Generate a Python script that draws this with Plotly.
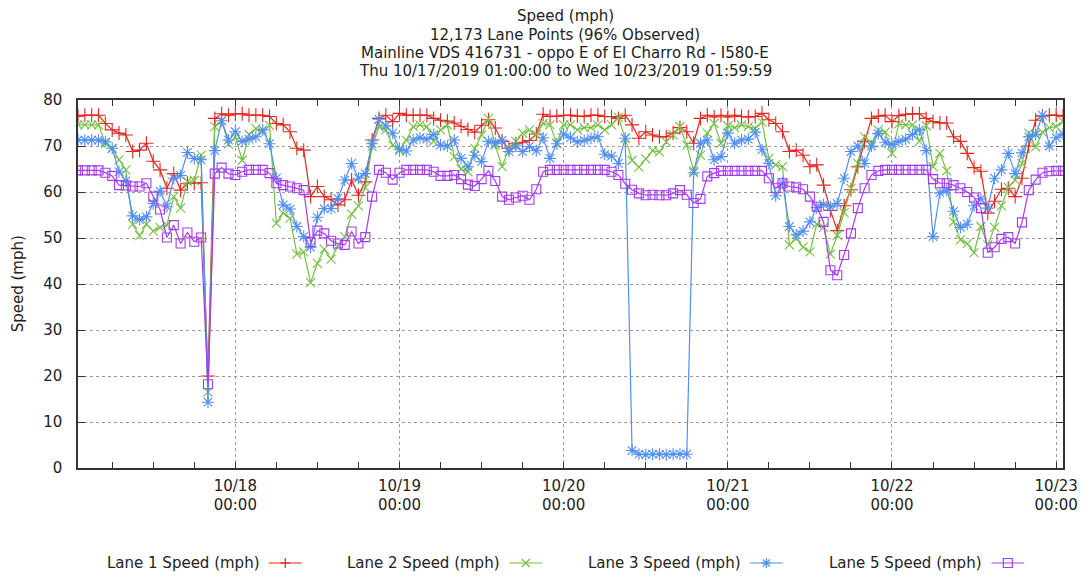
import plotly.graph_objects as go
import pandas as pd

# ---------------- data (hourly, 10/17 01:00 .. 10/23 01:00) ----------------
start_time = "2019-10-17 01:00"
n_points = 145

lane1 = [76.5, 76.7, 76.7, 76.7, 74.9, 73.5, 72.8, 72.4, 68.8, 69.1, 70.6, 66.7, 64.8, 60.8, 64.0, 60.4, 61.9, 61.9, 62.0, 20.0, 76.0, 77.0, 76.7, 77.0,
         77.0, 76.7, 76.7, 76.7, 76.4, 74.9, 74.6, 73.1, 69.5, 69.1, 59.0, 61.2, 59.0, 58.3, 57.2, 58.3, 62.6, 59.3, 62.2, 71.3, 76.0, 76.7, 75.3, 77.1,
         76.7, 76.7, 76.7, 76.7, 76.0, 75.6, 75.4, 75.0, 74.3, 73.6, 73.0, 74.5, 75.7, 73.9, 71.0, 69.5, 70.5, 70.8, 71.2, 72.6, 76.9, 76.4, 76.5, 76.7,
         76.7, 76.5, 76.4, 76.7, 76.7, 76.4, 76.4, 76.0, 76.7, 74.6, 71.7, 73.1, 72.4, 72.0, 72.0, 72.8, 74.0, 73.1, 70.6, 76.0, 76.7, 76.3, 76.7, 76.3,
         76.7, 76.4, 76.3, 76.4, 77.1, 75.7, 74.9, 73.1, 68.8, 69.1, 68.0, 65.5, 65.9, 61.5, 56.0, 51.6, 57.0, 60.5, 65.5, 71.0, 76.0, 76.5, 76.7, 75.3,
         76.6, 76.9, 77.0, 77.0, 76.0, 75.3, 75.0, 75.0, 72.0, 71.0, 68.4, 65.3, 64.5, 55.4, 58.0, 60.6, 60.8, 59.0, 63.0, 70.0, 75.6, 76.5, 76.7, 76.7, 76.5]

lane2 = [74.6, 74.6, 74.6, 74.6, 70.6, 69.5, 67.0, 64.8, 53.0, 50.5, 53.0, 51.5, 52.3, 52.8, 59.0, 56.5, 62.3, 62.5, 68.0, 16.5, 74.2, 75.5, 70.4, 72.0,
         66.9, 72.5, 73.8, 73.0, 74.5, 53.2, 55.4, 54.3, 46.5, 47.0, 40.3, 44.5, 47.6, 45.4, 48.3, 50.3, 55.2, 57.0, 61.0, 69.9, 74.2, 73.5, 70.2, 69.0,
         71.3, 74.2, 74.6, 74.2, 71.0, 73.5, 74.6, 67.7, 65.0, 64.4, 69.5, 72.4, 76.0, 70.2, 65.5, 69.5, 71.0, 72.8, 73.5, 72.5, 74.9, 74.6, 70.6, 74.6,
         74.6, 73.5, 74.0, 74.0, 74.6, 73.5, 74.6, 76.2, 71.7, 66.9, 65.4, 67.2, 69.0, 68.7, 70.9, 72.4, 74.2, 70.2, 64.6, 68.0, 72.8, 74.9, 70.6, 74.4,
         74.0, 74.6, 74.2, 73.8, 75.2, 67.3, 65.9, 65.5, 48.5, 50.0, 48.0, 47.0, 53.0, 52.3, 46.5, 50.6, 55.5, 60.8, 66.2, 72.0, 70.6, 73.5, 73.0, 68.4,
         74.8, 74.6, 74.6, 71.0, 74.4, 65.5, 68.4, 64.6, 53.5, 49.6, 48.8, 46.8, 52.5, 48.5, 52.3, 57.0, 61.0, 62.6, 66.2, 72.8, 69.8, 73.0, 74.0, 74.2, 75.3]

lane3 = [71.3, 71.3, 71.3, 71.3, 70.9, 69.5, 64.4, 62.4, 54.8, 54.0, 54.6, 57.5, 60.2, 56.8, 63.0, 63.6, 68.6, 67.3, 67.0, 14.3, 69.0, 75.5, 71.3, 73.1,
         71.0, 71.5, 72.0, 73.5, 70.5, 63.0, 57.2, 56.3, 52.5, 50.3, 48.0, 54.5, 56.4, 56.4, 58.6, 62.6, 66.2, 63.0, 64.0, 70.5, 75.8, 74.4, 72.8, 69.3,
         68.9, 71.3, 71.8, 71.5, 72.5, 70.2, 70.0, 71.3, 67.3, 65.5, 68.0, 66.6, 71.0, 70.6, 71.3, 68.8, 70.0, 68.8, 69.9, 69.0, 71.8, 67.3, 70.5, 72.6,
         71.8, 70.9, 71.2, 71.7, 72.0, 68.2, 67.8, 66.2, 71.7, 3.8, 3.0, 2.9, 3.0, 3.0, 2.9, 3.0, 3.0, 3.0, 64.2, 70.6, 71.3, 67.0, 67.7, 72.8,
         70.6, 71.3, 71.5, 73.0, 69.2, 66.2, 59.2, 62.0, 52.5, 50.7, 51.5, 53.5, 56.6, 57.3, 56.8, 57.5, 63.0, 68.8, 70.0, 66.2, 70.0, 72.7, 70.8, 70.3,
         71.0, 71.5, 72.5, 73.5, 69.0, 50.3, 59.8, 60.4, 55.8, 52.3, 53.0, 57.0, 58.5, 56.5, 63.0, 64.8, 68.4, 64.0, 68.5, 72.0, 72.5, 76.7, 70.0, 71.8, 72.6]

lane5 = [64.7, 64.7, 64.7, 64.7, 64.2, 63.5, 61.5, 61.4, 61.2, 61.2, 61.9, 59.0, 56.2, 50.1, 52.8, 48.8, 51.2, 49.2, 50.1, 18.2, 64.0, 65.3, 64.0, 63.7,
         64.4, 64.8, 64.8, 64.8, 64.1, 61.9, 61.5, 61.2, 60.8, 60.4, 49.1, 51.6, 51.0, 49.4, 48.8, 48.5, 51.4, 48.8, 50.2, 59.0, 64.8, 64.2, 62.7, 64.2,
         64.8, 64.8, 64.8, 64.8, 64.4, 63.5, 63.5, 63.7, 62.8, 61.6, 61.3, 62.8, 64.6, 62.4, 59.0, 58.3, 58.8, 59.2, 58.3, 60.6, 64.4, 64.8, 64.8, 64.8,
         64.8, 64.8, 64.8, 64.8, 64.8, 64.8, 64.4, 63.7, 61.8, 60.5, 59.7, 59.3, 59.4, 59.3, 59.3, 59.7, 60.4, 59.4, 57.6, 58.5, 63.4, 64.1, 64.6, 64.6,
         64.6, 64.6, 64.6, 64.6, 64.6, 63.0, 60.8, 61.9, 61.2, 61.0, 60.6, 59.0, 56.8, 53.5, 43.0, 41.9, 46.3, 51.0, 56.5, 60.8, 63.7, 64.6, 64.8, 64.8,
         64.8, 64.8, 64.8, 64.8, 64.8, 62.8, 61.9, 61.9, 61.5, 60.8, 60.0, 58.8, 56.5, 46.8, 48.0, 49.8, 50.2, 48.8, 53.4, 60.4, 62.7, 64.2, 64.5, 64.6, 64.6]

series_names = ["Lane 1 Speed (mph)", "Lane 2 Speed (mph)", "Lane 3 Speed (mph)", "Lane 5 Speed (mph)"]
day_ticks = ["2019-10-18", "2019-10-19", "2019-10-20", "2019-10-21", "2019-10-22", "2019-10-23"]
day_labels = ["10/18<br>00:00", "10/19<br>00:00", "10/20<br>00:00", "10/21<br>00:00", "10/22<br>00:00", "10/23<br>00:00"]
title_lines = ["Speed (mph)", "12,173 Lane Points (96% Observed)",
               "Mainline VDS 416731 - oppo E of El Charro Rd - I580-E",
               "Thu 10/17/2019 01:00:00 to Wed 10/23/2019 01:59:59"]
y_title = "Speed (mph)"

# ---------------- styling ----------------
colors = ["#e5261e", "#74c043", "#4f8ff6", "#a53bf0"]
symbols = ["cross-thin", "x-thin", "asterisk", "square-open"]
msizes = [10, 9, 10, 9]
FONT = "DejaVu Sans"
FS = 15
TXT = "#222222"

times = pd.date_range(start_time, periods=n_points, freq="h")

fig = go.Figure()
for vals, name, c, s, ms in zip([lane1, lane2, lane3, lane5], series_names, colors, symbols, msizes):
    fig.add_trace(go.Scatter(
        x=times, y=vals, name=name, mode="lines+markers",
        line=dict(color=c, width=1.2),
        marker=dict(symbol=s, size=ms, color=c, line=dict(color=c, width=1.1)),
        showlegend=False,
    ))

# plot area in pixels
L, R, T, B = 78, 1069, 100, 468
PW, PH = R - L, B - T


def px(x, y):
    return (x - L) / PW, (B - y) / PH


fig.update_layout(
    width=1090, height=577,
    margin=dict(l=L, r=1090 - R, t=T, b=577 - B),
    paper_bgcolor="white", plot_bgcolor="white",
    font=dict(family=FONT, size=FS, color=TXT),
    showlegend=False,
)

fig.update_xaxes(
    type="date", range=[times[0], times[-1]],
    showline=True, linecolor="#333333", linewidth=1.5, mirror="allticks",
    ticks="inside", ticklen=6, tickcolor="#333333",
    tickmode="array", tickvals=day_ticks, ticktext=day_labels,
    tickfont=dict(family=FONT, size=FS, color=TXT),
    showgrid=True, gridcolor="#9a9a9a", griddash="dot", gridwidth=1,
    minor=dict(tickmode="linear", tick0="2019-10-17 00:00", dtick=6 * 3600 * 1000,
               ticks="inside", ticklen=6, tickcolor="#333333", showgrid=False),
    zeroline=False, ticklabelstandoff=3,
)
fig.update_yaxes(
    range=[0, 80], dtick=10, tick0=0,
    showline=True, linecolor="#333333", linewidth=1.5, mirror="allticks",
    ticks="inside", ticklen=7, tickcolor="#333333",
    tickfont=dict(family=FONT, size=FS, color=TXT),
    showgrid=True, gridcolor="#9a9a9a", griddash="dot", gridwidth=1,
    zeroline=False, ticklabelstandoff=11,
)

annotations = []
for text, ypx in zip(title_lines, [16, 35, 53, 71]):
    x0, y0 = px(568, ypx)
    annotations.append(dict(text=text, x=x0, y=y0, xref="paper", yref="paper",
                            xanchor="center", yanchor="middle", showarrow=False,
                            font=dict(family=FONT, size=FS, color=TXT)))
xa, ya = px(18, 284)
annotations.append(dict(text=y_title, x=xa, y=ya, xref="paper", yref="paper",
                        textangle=-90, xanchor="center", yanchor="middle", showarrow=False,
                        font=dict(family=FONT, size=FS, color=TXT)))

# custom legend: text then line sample with marker glyph
shapes = []
legend_right = [263, 505, 747, 990]
ly = 563
for i, (name, c) in enumerate(zip(series_names, colors)):
    tx, ty = px(legend_right[i], ly)
    annotations.append(dict(text=name, x=tx, y=ty, xref="paper", yref="paper",
                            xanchor="right", yanchor="middle", showarrow=False,
                            font=dict(family=FONT, size=FS, color=TXT)))
    x1, x2 = legend_right[i] + 7, legend_right[i] + 40
    cx = (x1 + x2) / 2
    a, b = px(x1, ly)
    d, e = px(x2, ly)
    shapes.append(dict(type="line", xref="paper", yref="paper", x0=a, y0=b, x1=d, y1=e,
                       line=dict(color=c, width=1.2)))
    segs = []
    if i == 0:
        segs = [((cx - 5, ly), (cx + 5, ly)), ((cx, ly - 5), (cx, ly + 5))]
    elif i == 1:
        segs = [((cx - 4, ly - 4), (cx + 4, ly + 4)), ((cx - 4, ly + 4), (cx + 4, ly - 4))]
    elif i == 2:
        segs = [((cx - 5, ly), (cx + 5, ly)), ((cx, ly - 5), (cx, ly + 5)),
                ((cx - 3.5, ly - 3.5), (cx + 3.5, ly + 3.5)), ((cx - 3.5, ly + 3.5), (cx + 3.5, ly - 3.5))]
    for (p1, p2) in segs:
        a, b = px(*p1)
        d, e = px(*p2)
        shapes.append(dict(type="line", xref="paper", yref="paper", x0=a, y0=b, x1=d, y1=e,
                           line=dict(color=c, width=1.2)))
    if i == 3:
        a, b = px(cx - 4.5, ly + 4.5)
        d, e = px(cx + 4.5, ly - 4.5)
        shapes.append(dict(type="rect", xref="paper", yref="paper", x0=a, y0=b, x1=d, y1=e,
                           line=dict(color=c, width=1.2), fillcolor="rgba(0,0,0,0)"))

fig.update_layout(annotations=annotations, shapes=shapes)

fig.write_html("out.html")
